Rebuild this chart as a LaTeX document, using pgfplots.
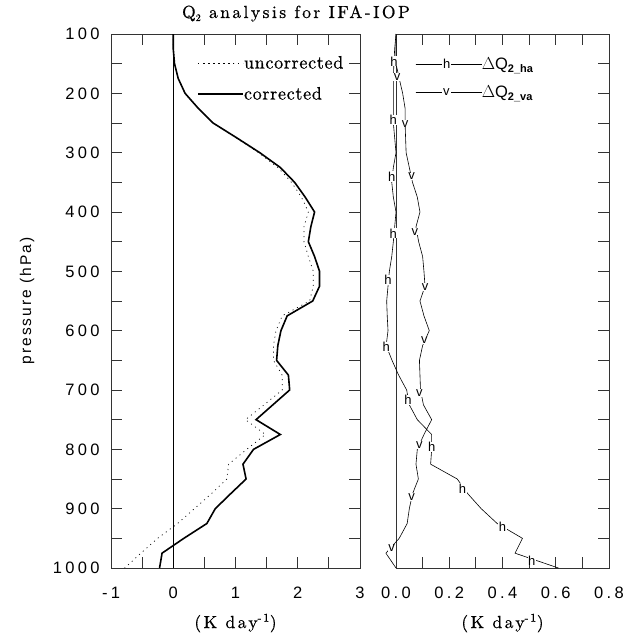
\documentclass[border=0pt]{standalone}
\usepackage{fontspec}
\usepackage{pgfplots}
\pgfplotsset{compat=1.18}
\newfontfamily\tickfont{Liberation Sans}[LetterSpace=20]
\newfontfamily\labfont{Liberation Sans}[LetterSpace=13]
\newfontfamily\markfont{Liberation Sans}
\newfontfamily\serifls{lmroman10-regular.otf}[LetterSpace=4, FakeBold=0.6]
\newfontfamily\seriftt{lmroman10-regular.otf}[LetterSpace=14, FakeBold=0.6]
\newcommand\tf{\tickfont\fontsize{16.5}{19}\selectfont}
\newcommand\lf{\labfont\fontsize{15.5}{18}\selectfont}
\newcommand\ttl{\serifls\fontsize{18}{20}\selectfont}
\newcommand\tit{\seriftt\fontsize{17.5}{20}\selectfont}
\newcommand\mf{\markfont\fontsize{13}{14}\selectfont}

\pgfplotstableread{
x p
0 100
0 125
0.02 150
0.08 175
0.19 200
0.40 225
0.64 250
1.02 275
1.39 300
1.72 325
1.95 350
2.12 375
2.27 400
2.21 425
2.17 450
2.27 475
2.35 500
2.35 525
2.24 550
1.83 575
1.73 600
1.68 625
1.66 650
1.85 675
1.87 700
1.60 725
1.33 750
1.72 775
1.29 800
1.12 825
1.17 850
0.92 875
0.675 900
0.54 925
0.17 950
-0.18 975
-0.22 1000
}\corrected

\pgfplotstableread{
x p
0 100
0 125
0.02 150
0.08 175
0.19 200
0.40 225
0.64 250
1.01 275
1.37 300
1.68 325
1.90 350
2.06 375
2.17 400
2.10 425
2.10 450
2.17 475
2.25 500
2.25 525
2.19 550
1.75 575
1.65 600
1.61 625
1.61 650
1.75 675
1.75 700
1.46 725
1.16 750
1.48 775
1.18 800
0.89 825
0.86 850
0.61 875
0.34 900
0.07 925
-0.25 950
-0.52 975
-0.78 1000
}\uncorrected

\pgfplotstableread{
x p
0.0 100
-0.005 125
-0.008 150
-0.01 175
-0.01 200
-0.01 225
-0.01 250
-0.005 275
0.0 300
-0.01 325
-0.016 350
-0.01 375
0.0 400
-0.005 425
-0.01 450
-0.016 475
-0.025 500
-0.03 525
-0.035 550
-0.033 575
-0.03 600
-0.037 625
-0.015 650
0.01 675
0.04 700
0.05 725
0.08 750
0.134 775
0.134 800
0.13 825
0.23 850
0.27 875
0.32 900
0.38 925
0.475 950
0.447 975
0.61 1000
}\hadv

\pgfplotstableread{
x p
0.0 100
0.0 125
0.0 150
0.012 175
0.025 200
0.034 225
0.034 250
0.036 275
0.038 300
0.05 325
0.062 350
0.08 375
0.09 400
0.075 425
0.085 450
0.10 475
0.105 500
0.109 525
0.09 550
0.105 575
0.125 600
0.10 625
0.088 650
0.09 675
0.092 700
0.103 725
0.134 750
0.105 775
0.08 800
0.075 825
0.084 850
0.062 875
0.05 900
0.042 925
0.012 950
-0.038 975
0.0 1000
}\vadv

\pgfplotsset{
  panel/.style={
    scale only axis, height=534pt,
    y dir=reverse, ymin=100, ymax=1000,
    ytick={100,200,...,1000}, minor ytick={150,250,...,950},
    tick align=inside, major tick length=11pt, minor tick length=11pt,
    axis line style={black!80, line width=0.8pt},
    every tick/.style={black!80, line width=0.8pt},
    every minor tick/.style={black!80, line width=0.8pt},
    ticklabel style={font=\tf},
    /pgf/number format/assume math mode=true,
    xticklabel style={anchor=base, yshift=-30pt},
    xlabel style={font=\tit, at={(axis description cs:0.5,-0.1124)}, anchor=base},
  }
}

\begin{document}
\begin{tikzpicture}
\begin{axis}[panel, at={(111pt,68pt)}, anchor=south west, width=249pt,
  xmin=-1, xmax=3, xtick={-1,0,1,2,3}, xticklabels={-1,0,1,2,3},
  minor xtick={-0.5,0.5,1.5,2.5},
  yticklabels={100,200,300,400,500,600,700,800,900,1000},
  yticklabel style={anchor=east, xshift=-8pt},
  xlabel={(K day\textsuperscript{\fontsize{12}{12}\selectfont -1})},
  ylabel={pressure (hPa)},
  ylabel style={font=\lf, at={(axis description cs:-0.3373,0.5)}, anchor=center},
  legend style={at={(axis cs:0.385,175)}, anchor=west, draw=none, fill=none,
    inner sep=0pt, row sep=17pt, nodes={font=\ttl, inner sep=0pt}},
  legend cell align=left,
]
\addplot[black, line width=0.5pt, forget plot] coordinates {(0,100) (0,1000)};
\addplot[black, line width=0.7pt, dash pattern=on 1pt off 4pt,
  legend image code/.code={\path (0pt,0pt) -- (45pt,0pt);
    \draw[black, line width=0.7pt, dash pattern=on 1pt off 4pt] (6pt,0pt) -- (36pt,0pt);}]
  table[x=x,y=p] {\uncorrected};
\addlegendentry{uncorrected}
\addplot[black, line width=1.6pt,
  legend image code/.code={\path (0pt,0pt) -- (45pt,0pt);
    \draw[black, line width=1.6pt, solid] (0pt,0pt) -- (38pt,0pt);
    \draw[black, line width=1.6pt, solid] (0pt,0.4pt) -- (38pt,0.4pt);}]
  table[x=x,y=p] {\corrected};
\addlegendentry{corrected}
\end{axis}

\begin{axis}[panel, at={(396pt,68pt)}, anchor=south west, width=213pt,
  xmin=0, xmax=0.8, xtick={0,0.2,0.4,0.6,0.8}, xticklabels={0.0,0.2,0.4,0.6,0.8},
  minor xtick={0.1,0.3,0.5,0.7},
  ytick pos=right, yticklabels={},
  xlabel={(K day\textsuperscript{\fontsize{12}{12}\selectfont -1})},
  clip=false,
  legend style={at={(axis cs:0.0714,175)}, anchor=west, draw=none, fill=none,
    inner sep=0pt, row sep=15pt, nodes={font=\tf, inner sep=0pt}},
  legend cell align=left,
]
\addplot[black, line width=0.6pt,
  legend image code/.code={\path (0pt,0pt) -- (66pt,0pt);
    \draw[black, line width=0.6pt] (0pt,0pt) -- (52pt,0pt);
    \node[fill=white, inner sep=1.2pt, font=\mf] at (26pt,0pt) {h};}]
  table[x=x,y=p] {\hadv};
\addlegendentry{\markfont\fontsize{16.5}{18}\selectfont $\Delta$Q\raisebox{-3pt}{\fontsize{11}{12}\selectfont\bfseries 2\_ha}}
\addplot[black, line width=0.6pt,
  legend image code/.code={\path (0pt,0pt) -- (66pt,0pt);
    \draw[black, line width=0.6pt] (0pt,0pt) -- (52pt,0pt);
    \node[fill=white, inner sep=1.2pt, font=\mf] at (26pt,0pt) {v};}]
  table[x=x,y=p] {\vadv};
\addlegendentry{\markfont\fontsize{16.5}{18}\selectfont $\Delta$Q\raisebox{-3pt}{\fontsize{11}{12}\selectfont\bfseries 2\_va}}
\addplot[only marks, mark=text, text mark={\mf h}, text mark as node=true, forget plot,
  text mark style={fill=white, inner sep=0.4pt}]
  coordinates {(-0.008,146) (-0.01,245) (-0.016,340) (-0.01,436) (-0.03,515) (-0.037,627)
    (0.045,717) (0.134,796) (0.25,866) (0.40,930) (0.51,987)};
\addplot[only marks, mark=text, text mark={\mf v}, text mark as node=true, forget plot,
  text mark style={fill=white, inner sep=0.4pt}]
  coordinates {(0.004,172) (0.034,251) (0.059,340) (0.071,433) (0.109,526) (0.107,616)
    (0.088,705) (0.088,793) (0.059,880) (-0.016,967)};
\end{axis}

\node[anchor=base, font=\tit] at (296pt,618pt) {Q\raisebox{-3pt}{\fontsize{10}{11}\selectfont 2} analysis for IFA-IOP};
\pgfresetboundingbox
\path (0pt,0pt) rectangle (632pt,636pt);
\end{tikzpicture}
\end{document}
